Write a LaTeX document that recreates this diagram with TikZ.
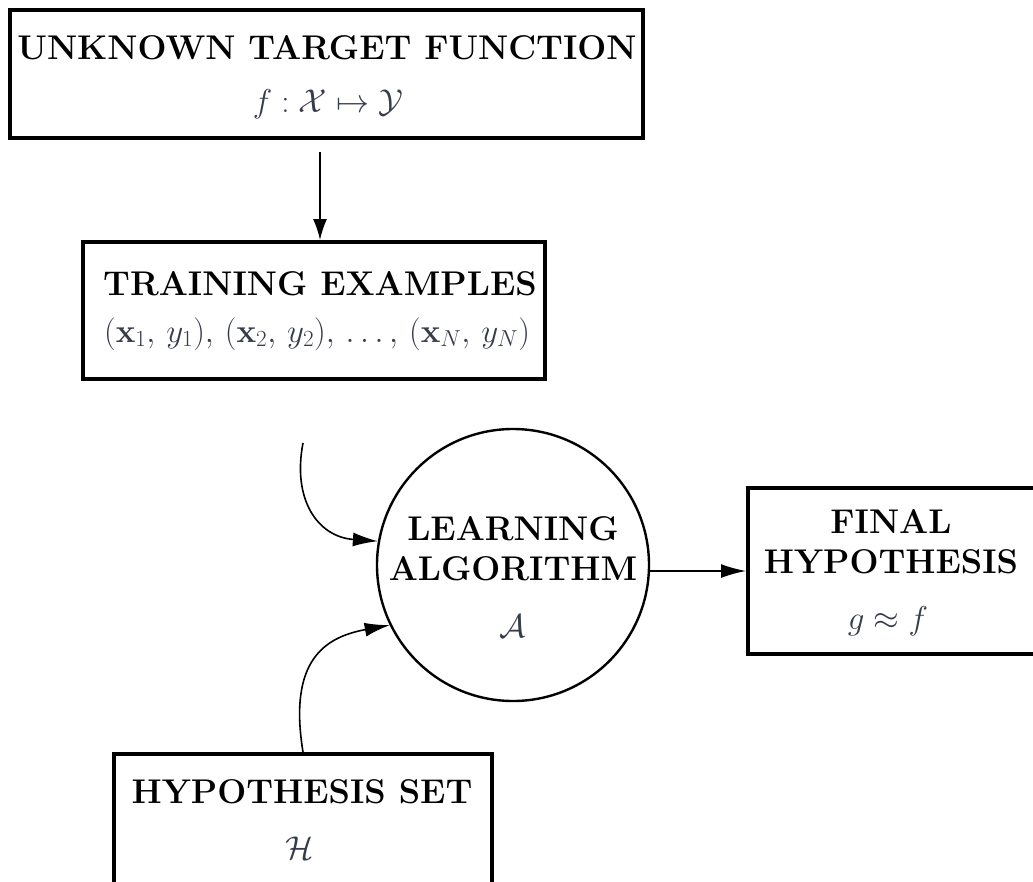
\RequirePackage{fix-cm}
\documentclass[tikz,border=0pt]{standalone}
\usetikzlibrary{arrows.meta}
\definecolor{mathink}{RGB}{55,60,75}
\tikzset{
  boxframe/.style={draw=black, line width=4pt, inner sep=0pt},
  titletext/.style={anchor=base, inner sep=0pt, font=\fontsize{34.3}{41}\selectfont\bfseries},
  mathtext/.style={anchor=base, inner sep=0pt, text=mathink, font=\fontsize{33}{40}\selectfont},
  conn/.style={line width=1.6pt, -{Latex[length=25pt,width=14pt]}},
}
\newcommand{\pairsep}{,\mskip3mu}
\begin{document}
\begin{tikzpicture}[x=1pt,y=-1pt]
\useasboundingbox (0,0) rectangle (1033,881);
\clip (0,0) rectangle (1033,881);

% frames
\node[boxframe, minimum width=633pt, minimum height=128pt] (target) at (326.5,74) {};
\node[boxframe, minimum width=462pt, minimum height=137pt] (train) at (314,310.5) {};
\node[circle, draw, line width=2.4pt, minimum size=272pt, inner sep=0pt] (alg) at (513,565) {};
\node[boxframe, minimum width=288pt, minimum height=166pt] (final) at (892,571) {};
\node[boxframe, minimum width=378pt, minimum height=141pt] (hset) at (303,824.5) {};

% labels
\node[titletext] (targetT) at (327,59) {UNKNOWN TARGET FUNCTION};
\node[mathtext] (targetM) at (328,112) {$f:\mathcal{X}\mapsto\mathcal{Y}$};
\node[titletext] (trainT) at (320,295) {TRAINING EXAMPLES};
\node[mathtext] (trainM) at (317,342) {$(\mathbf{x}_1\pairsep y_1)\pairsep(\mathbf{x}_2\pairsep y_2)\pairsep\ldots\pairsep(\mathbf{x}_N\pairsep y_N)$};
\node[titletext] (algT1) at (513,540) {LEARNING};
\node[titletext] (algT2) at (513,580) {ALGORITHM};
\node[mathtext] (algM) at (513,637) {$\mathcal{A}$};
\node[titletext] (finalT1) at (891,533) {FINAL};
\node[titletext] (finalT2) at (891,573) {HYPOTHESIS};
\node[mathtext] (finalM) at (888,629) {$g\approx f$};
\node[titletext] (hsetT) at (302,803) {HYPOTHESIS SET};
\node[mathtext] (hsetM) at (300,859) {$\mathcal{H}$};

% connectors
\coordinate (drop) at (320,152);
\draw[line width=1.6pt, -{Latex[length=21pt,width=14pt]}] (drop) -- (drop |- train.north);
\draw[conn] (alg.east |- final.west) -- (final.west);
\coordinate (feed) at (303,443);
\draw[conn] (feed) .. controls (292,500) and (318,537) .. (alg.170);
\draw[conn] (hset.north) .. controls (288,660) and (325,637) .. (alg.206);
\end{tikzpicture}
\end{document}
